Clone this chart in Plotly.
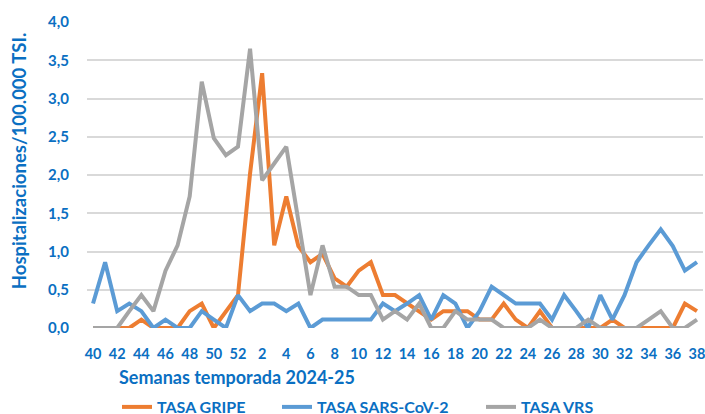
import plotly.graph_objects as go

weeks = list(range(40, 53)) + list(range(1, 39))

gripe = [0, 0, 0, 0, 0.11, 0, 0, 0, 0.22, 0.32, 0, 0.22, 0.43,
         2.02, 3.33, 1.08, 1.72, 1.07, 0.86, 0.97, 0.65, 0.54, 0.75, 0.86, 0.43, 0.43,
         0.32, 0.22, 0.11, 0.22, 0.22, 0.22, 0.11, 0.11, 0.32, 0.11, 0, 0.22, 0,
         0, 0, 0, 0, 0.11, 0, 0, 0, 0, 0, 0.32, 0.22]

sars = [0.32, 0.86, 0.22, 0.32, 0.22, 0, 0.11, 0, 0, 0.22, 0.11, 0, 0.43,
        0.22, 0.32, 0.32, 0.22, 0.32, 0, 0.11, 0.11, 0.11, 0.11, 0.11, 0.32, 0.22,
        0.32, 0.43, 0.11, 0.43, 0.32, 0, 0.22, 0.54, 0.43, 0.32, 0.32, 0.32, 0.11,
        0.43, 0.22, 0, 0.43, 0.11, 0.43, 0.86, 1.08, 1.29, 1.07, 0.75, 0.86]

vrs = [0, 0, 0, 0.22, 0.43, 0.22, 0.75, 1.08, 1.72, 3.22, 2.48, 2.26, 2.37,
       3.65, 1.93, 2.15, 2.37, 1.40, 0.43, 1.08, 0.54, 0.54, 0.43, 0.43, 0.11, 0.22,
       0.11, 0.32, 0, 0, 0.22, 0.11, 0.11, 0.11, 0, 0, 0, 0.11, 0,
       0, 0, 0.11, 0, 0, 0, 0, 0.11, 0.22, 0, 0, 0.11]

tick_weeks = weeks[::2]
y_ticks = [0, 0.5, 1.0, 1.5, 2.0, 2.5, 3.0, 3.5, 4.0]

series_names = ["TASA GRIPE", "TASA SARS-CoV-2", "TASA VRS"]
colors = ["#ED7D31", "#5B9BD5", "#A5A5A5"]

W, H = 705, 414
ML, MR, MT, MB = 87, 2, 21.5, 85.7
FONT = "Lato, Liberation Sans, Arial, sans-serif"
TXT = "#0A6FC2"

xcat = [str(w) for w in weeks]
fig = go.Figure()
legend_x_px = [117, 277, 481]
for k, (name, vals, col) in enumerate(zip(series_names, [gripe, sars, vrs], colors)):
    lg = "legend" if k == 0 else f"legend{k+1}"
    fig.add_trace(go.Scatter(x=xcat, y=vals, mode="lines", name=name,
                             line=dict(color=col, width=4), legend=lg))

legends = {}
for k, px in enumerate(legend_x_px):
    key = "legend" if k == 0 else f"legend{k+1}"
    legends[key] = dict(
        x=px / W, y=1 - 407 / H, xanchor="left", yanchor="middle",
        xref="container", yref="container", orientation="h",
        font=dict(family=FONT, size=16, color=TXT, weight="bold"),
        bgcolor="rgba(0,0,0,0)", borderwidth=0, itemwidth=30,
        tracegroupgap=0,
    )

fig.update_layout(
    width=W, height=H,
    margin=dict(l=ML, r=MR, t=MT, b=MB, pad=0, autoexpand=False),
    paper_bgcolor="white", plot_bgcolor="white",
    separators=", ",
    showlegend=True,
    font=dict(family=FONT, color=TXT, size=14),
    xaxis=dict(type="category", range=[-0.5, len(weeks) - 0.5],
               tickmode="array", tickvals=[str(w) for w in tick_weeks],
               ticktext=[str(w) for w in tick_weeks],
               showgrid=False, zeroline=False, showline=False,
               tickfont=dict(family=FONT, size=14.5, color=TXT, weight="bold"),
               ticks="", ticklabelstandoff=15, tickangle=0),
    yaxis=dict(range=[0, 4.0], tickmode="array", tickvals=y_ticks,
               tickformat=".1f", showgrid=True, gridcolor="#D9D9D9", gridwidth=1.5,
               zeroline=False, showline=False, ticks="",
               tickfont=dict(family=FONT, size=15, color=TXT, weight="bold"),
               ticklabelstandoff=17),
    **legends,
)

pw = W - ML - MR
ph = H - MT - MB
fig.add_annotation(text="Semanas temporada 2024-25", xref="paper", yref="paper",
                   x=(237 - ML) / pw, y=(H - MB - 377) / ph, showarrow=False,
                   xanchor="center", yanchor="middle",
                   font=dict(family=FONT, size=18, color=TXT, weight="bold"))
fig.add_annotation(text="Hospitalizaciones/100.000 TSI.", xref="paper", yref="paper",
                   x=(19 - ML) / pw, y=(H - MB - 161) / ph, showarrow=False,
                   xanchor="center", yanchor="middle", textangle=-90,
                   font=dict(family=FONT, size=18.5, color=TXT, weight="bold"))

fig.write_html("out.html", config={"displayModeBar": False},
               post_script="document.body.style.margin='0';document.body.style.overflow='hidden';")
